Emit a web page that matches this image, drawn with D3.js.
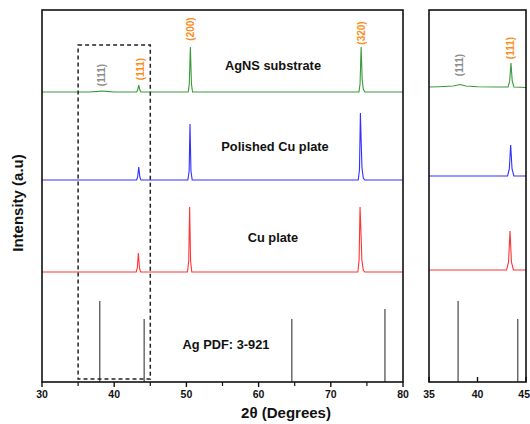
<!DOCTYPE html>
<html>
<head>
<meta charset="utf-8">
<script src="https://cdn.jsdelivr.net/npm/d3@7"></script>
<style>
  body { margin: 0; background: #fff; }
  text { font-family: "Liberation Sans", Arial, sans-serif; font-weight: bold; }
</style>
</head>
<body>
<div id="chart"></div>
<script>
// traces: [2theta, intensity above own baseline]
var greenMain = [[30,0],[36.5,0],[37.8,0.6],[38.3,1],[38.9,0.6],[40,0],[43.1,0],[43.25,2],[43.4,7],[43.55,2],[43.7,0],
  [50.25,0],[50.4,8],[50.55,45],[50.7,8],[50.85,0],[73.9,0],[74.05,8],[74.2,45],[74.35,12],[74.5,3],[74.7,0],[80,0]];
var blueMain = [[30,0],[43.1,0],[43.25,3],[43.4,13],[43.55,3],[43.7,0],[50.2,0],[50.38,9],[50.5,56],[50.63,9],[50.8,0],
  [73.8,0],[73.97,10],[74.1,67],[74.2,40],[74.32,12],[74.5,2],[74.7,0],[80,0]];
var redMain = [[30,0],[43.05,0],[43.2,4],[43.35,19],[43.5,4],[43.65,0],[50.15,0],[50.32,11],[50.45,65],[50.58,11],[50.75,0],
  [73.75,0],[73.92,12],[74.05,65],[74.18,40],[74.3,12],[74.5,2],[74.7,0],[80,0]];

// zoomed inset 35-45
var greenInset = [[35,0],[36,0.3],[37.5,1],[38.2,2.5],[38.8,1],[40,0.3],[42,0],[43.15,0],[43.32,6],[43.45,24],[43.58,6],[43.75,0],[45,-0.5]];
var blueInset = [[35,0],[43.1,0],[43.28,7],[43.42,31],[43.56,7],[43.75,0],[45,0]];
var redInset = [[35,0],[43.0,0],[43.2,8],[43.35,39],[43.5,8],[43.7,0],[45,0]];

var traceNames = ["AgNS substrate", "Polished Cu plate", "Cu plate"];
var mainOffsets = [290, 202, 110];
var insetOffsets = [295, 206, 112];

// Ag PDF 3-921 reference lines
var pdfPos = [38.0, 44.15, 64.6, 77.5];
var pdfInt = [81, 63, 63, 73];

// peak labels
var mainLabels = [{x: 38.3, y: 307, t: "(111)", c: "grey"}, {x: 43.6, y: 313, t: "(111)", c: "orange"},
  {x: 50.5, y: 353, t: "(200)", c: "orange"}, {x: 74.2, y: 349, t: "(320)", c: "orange"}];
var insetLabels = [{x: 38.1, y: 317, t: "(111)", c: "grey"}, {x: 43.45, y: 334, t: "(111)", c: "orange"}];

var mainTicks = [30, 40, 50, 60, 70, 80];
var mainMinor = [35, 45, 55, 65, 75];
var insetTicks = [35, 40, 45];

var colors = ["#3a9a3a", "#3030ff", "#ff3535"];
var labelColors = {grey: "#8c8c8c", orange: "#ff8c1a"};

var W = 530, H = 424;
var svg = d3.select("#chart").append("svg").attr("width", W).attr("height", H);

var y = d3.scaleLinear().domain([0, 372]).range([382, 10]);
var xMain = d3.scaleLinear().domain([30, 80]).range([42, 403]);
var xIn = d3.scaleLinear().domain([35, 45]).range([429, 526]);

function drawPanel(x, traces, offsets, labels, ticks, minor, tickDir) {
  var g = svg.append("g");
  var dom = x.domain();

  // pdf sticks
  pdfPos.forEach(function(p, i) {
    if (p < dom[0] || p > dom[1]) return;
    g.append("line")
      .attr("x1", x(p)).attr("x2", x(p))
      .attr("y1", y(0)).attr("y2", y(pdfInt[i]))
      .attr("stroke", "#555").attr("stroke-width", 1.3);
  });

  traces.forEach(function(tr, i) {
    var line = d3.line()
      .x(function(d) { return x(d[0]); })
      .y(function(d) { return y(d[1] + offsets[i]); });
    g.append("path").datum(tr)
      .attr("d", line)
      .attr("fill", "none")
      .attr("stroke", colors[i])
      .attr("stroke-width", 1.1);
  });

  labels.forEach(function(l) {
    g.append("text")
      .attr("transform", "translate(" + x(l.x) + "," + y(l.y) + ") rotate(-90)")
      .attr("text-anchor", "middle")
      .attr("dominant-baseline", "central")
      .attr("font-size", 10)
      .attr("fill", labelColors[l.c])
      .text(l.t);
  });

  // frame
  g.append("rect")
    .attr("x", x.range()[0]).attr("y", y.range()[1])
    .attr("width", x.range()[1] - x.range()[0])
    .attr("height", y.range()[0] - y.range()[1])
    .attr("fill", "none").attr("stroke", "#111").attr("stroke-width", 1.6);

  ticks.forEach(function(t, i) {
    g.append("line")
      .attr("x1", x(t)).attr("x2", x(t))
      .attr("y1", y(0)).attr("y2", y(0) + tickDir * 5)
      .attr("stroke", "#111").attr("stroke-width", 1.4);
    var last = x(t) + 8 > W;
    g.append("text")
      .attr("x", last ? W : x(t)).attr("y", 398)
      .attr("text-anchor", last ? "end" : "middle")
      .attr("font-size", 10.5)
      .attr("fill", "#111")
      .text(t);
  });
  minor.forEach(function(t) {
    g.append("line")
      .attr("x1", x(t)).attr("x2", x(t))
      .attr("y1", y(0)).attr("y2", y(0) + tickDir * 4)
      .attr("stroke", "#111").attr("stroke-width", 1.2);
  });
  return g;
}

var main = drawPanel(xMain, [greenMain, blueMain, redMain], mainOffsets, mainLabels, mainTicks, mainMinor, 1);
drawPanel(xIn, [greenInset, blueInset, redInset], insetOffsets, insetLabels, insetTicks, [], -1);

// dashed zoom box
main.append("rect")
  .attr("x", xMain(35)).attr("y", y(337))
  .attr("width", xMain(45) - xMain(35))
  .attr("height", y(3) - y(337))
  .attr("fill", "none").attr("stroke", "#222")
  .attr("stroke-width", 1.5).attr("stroke-dasharray", "4,3");

// trace names
var namePos = [[273, 70], [275, 151], [273, 242], [226, 349]];
traceNames.concat(["Ag PDF: 3-921"]).forEach(function(n, i) {
  svg.append("text")
    .attr("x", namePos[i][0]).attr("y", namePos[i][1])
    .attr("text-anchor", "middle")
    .attr("font-size", 12.8)
    .attr("fill", "#111")
    .text(n);
});

// axis titles
svg.append("text")
  .attr("x", 286).attr("y", 418)
  .attr("text-anchor", "middle")
  .attr("font-size", 15)
  .attr("fill", "#111")
  .text("2θ (Degrees)");

svg.append("text")
  .attr("transform", "translate(23,203) rotate(-90)")
  .attr("text-anchor", "middle")
  .attr("font-size", 15)
  .attr("fill", "#111")
  .text("Intensity (a.u)");
</script>
</body>
</html>
